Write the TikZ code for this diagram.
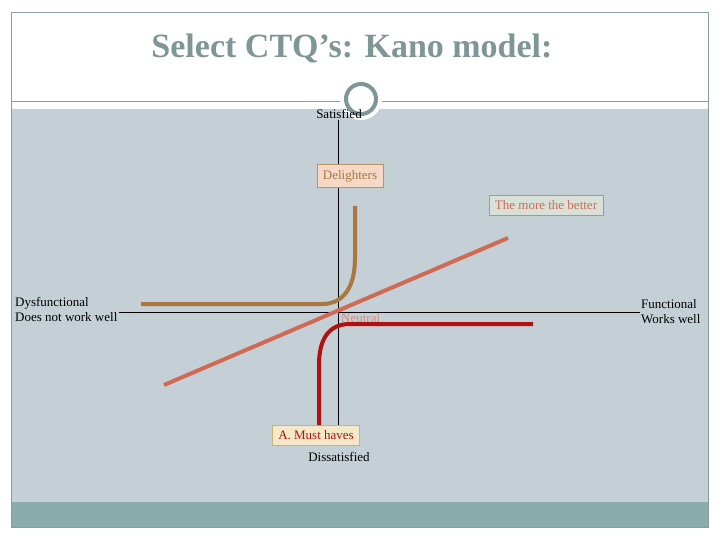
\documentclass[tikz,border=0pt]{standalone}
\usepackage{fontspec}
\setmainfont{Liberation Serif}
\usepackage{xcolor}
\usetikzlibrary{positioning, calc}

\definecolor{slidegray}{HTML}{C5D0D6}
\definecolor{slideteal}{HTML}{8AACAC}
\definecolor{framegray}{HTML}{8A9C9C}
\definecolor{titlegray}{HTML}{7F9696}
\definecolor{delightbrown}{HTML}{A87840}
\definecolor{betterred}{HTML}{D06A55}
\definecolor{mustred}{HTML}{B01010}

\begin{document}
\begin{tikzpicture}[
			x=1pt, y=-1pt,
			lbl/.style={font=\fontsize{13}{15}\selectfont, inner sep=1pt},
			tag/.style={draw, font=\fontsize{13}{15}\selectfont, inner xsep=6pt, inner ysep=5.5pt, line width=0.8pt},
			axis/.style={draw=black, line width=0.6pt},
			curve/.style={line width=4pt}
			]
			\useasboundingbox (0,0) rectangle (720,540);
			% slide background
			\fill[slidegray] (11,109) rectangle (708,502);
			\fill[slideteal] (11,502) rectangle (708,527);
			\draw[framegray, line width=0.8pt] (11,12) rectangle (708,527);
			\draw[framegray, line width=0.8pt] (11,101) -- (708,101);
			\node[circle, fill=white, minimum size=42pt] (ring) at (361,99) {};
			\node[circle, draw=titlegray, line width=4pt, fill=white, minimum size=30pt] at (ring) {};
			\node[font=\fontsize{34}{38}\selectfont\bfseries, text=titlegray] (title) at (352,48) {Select CTQ’s: Kano model:};
			
			\node[lbl] (sat) at (339,114) {Satisfied};
			\node[lbl] (dis) at (339,457) {Dissatisfied};
			\node[lbl, align=left, anchor=west] (dys) at (14,309.5) {Dysfunctional\\Does not work well};
			\node[lbl, align=left, anchor=west] (fun) at (640,312) {Functional\\Works well};
			\coordinate (o) at (338,312);
			
			\node[tag, draw=delightbrown!80, fill={rgb,255:red,245;green,216;blue,198}, text=delightbrown] (del) at (350,176) {Delighters};
			\node[tag, draw={rgb,255:red,140;green,165;blue,140}, fill={rgb,255:red,216;green,224;blue,216}, text=betterred] (more) at (546,205.5) {The more the better};
			\node[tag, draw={rgb,255:red,200;green,180;blue,120}, fill={rgb,255:red,245;green,232;blue,200}, text=mustred] (must) at (316,435.5) {A. Must haves};
			
			% axes
			\draw[axis] (sat.south -| o) -- (del.north -| o);
			\draw[axis] (del.south -| o) -- (must.north -| o);
			\draw[axis] (dys.east |- o) -- (fun.west |- o);
			
			% Kano curves
			\draw[curve, delightbrown] (141,304) -- (322,304) .. controls (345,304) and (355,285) .. (355,258) -- (355,206);
			\draw[curve, betterred] (164,385) -- (508,238);
			\draw[curve, mustred] (533,324) -- (350,324) .. controls (328,324) and (319,340) .. (319,365) -- (must.north -| 319,0);
			
			\node[lbl, text={rgb,255:red,214;green,140;blue,120}, anchor=west] (neu) at (340,318) {Neutral};
		\end{tikzpicture}
\end{document}
